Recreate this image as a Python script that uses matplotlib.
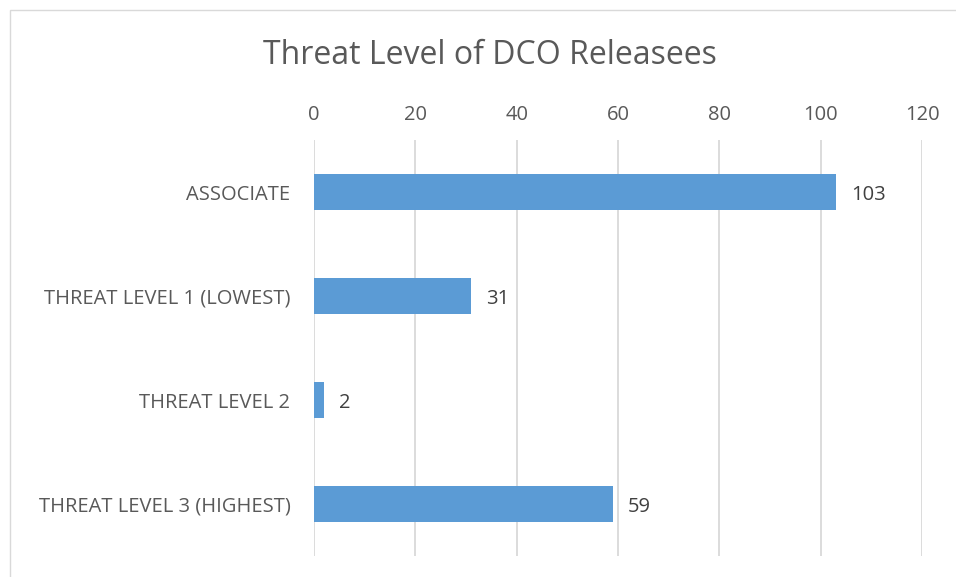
import matplotlib
matplotlib.use("Agg")
import matplotlib.pyplot as plt
from matplotlib.patches import Rectangle

# Releasee counts by threat level
categories = ["ASSOCIATE", "THREAT LEVEL 1 (LOWEST)", "THREAT LEVEL 2", "THREAT LEVEL 3 (HIGHEST)"]
counts = [103, 31, 2, 59]
x_ticks = [0, 20, 40, 60, 80, 100, 120]

BAR_COLOR = "#5B9BD5"
TEXT_COLOR = "#595959"
GRID_COLOR = "#D9D9D9"

plt.rcParams["font.family"] = ["Open Sans", "DejaVu Sans"]

fig = plt.figure(figsize=(9.56, 5.77), dpi=100)
ax = fig.add_axes([314 / 956, 1 - 556 / 577, 608 / 956, 416 / 577])

y = range(len(categories))
ax.barh(y, counts, height=0.35, color=BAR_COLOR, zorder=3)
for i, v in enumerate(counts):
    ax.annotate(str(v), (v, i), textcoords="offset points", xytext=(11, -2),
                ha="left", va="center", fontsize=14.5, color="#404040")

ax.set_xlim(0, 120)
ax.set_ylim(len(categories) - 0.5, -0.5)
ax.set_xticks(x_ticks)
ax.xaxis.tick_top()
ax.tick_params(axis="x", length=0, pad=11, labelsize=14.5, labelcolor=TEXT_COLOR)
ax.set_yticks(list(y))
ax.set_yticklabels(categories)
ax.tick_params(axis="y", length=0, pad=17, labelsize=14.5, labelcolor=TEXT_COLOR)
ax.grid(axis="x", color=GRID_COLOR, linewidth=1.3, zorder=0)
for s in ax.spines.values():
    s.set_visible(False)

fig.text(490 / 956, 1 - 55 / 577, "Threat Level of DCO Releasees", ha="center", va="center",
         fontsize=23, color=TEXT_COLOR)

# chart area border (runs off the right and bottom edges)
fig.patches.append(Rectangle((10 / 956, -10 / 577), 960 / 956, 577 / 577, transform=fig.transFigure,
                             fill=False, edgecolor=GRID_COLOR, linewidth=1))

fig.savefig("out.png", facecolor="white")
